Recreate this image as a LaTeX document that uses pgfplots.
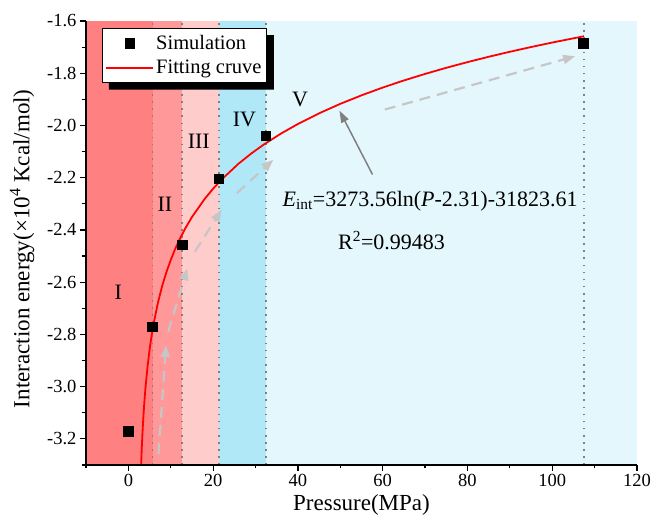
\documentclass[border=0pt]{standalone}
\usepackage{fontspec}
\setmainfont{Liberation Serif}
\usepackage{pgfplots}
\pgfplotsset{compat=1.18}
\usetikzlibrary{arrows.meta}

\definecolor{regI}{RGB}{255,128,128}
\definecolor{regII}{RGB}{255,152,152}
\definecolor{regIII}{RGB}{255,204,204}
\definecolor{regIV}{RGB}{176,232,248}
\definecolor{regV}{RGB}{228,247,253}
\definecolor{dashgray}{RGB}{198,198,198}
\definecolor{solidgray}{RGB}{128,128,128}

\begin{document}
\begin{tikzpicture}
\begin{axis}[
  at={(0,0)}, anchor=south west,
  width=551pt, height=444pt, scale only axis,
  xmin=-10, xmax=120, ymin=-3.3, ymax=-1.6,
  axis x line*=bottom, axis y line*=left,
  axis line style={line width=1.2pt, -},
  xtick={0,20,40,60,80,100,120},
  minor xtick={-10,10,30,50,70,90,110},
  ytick={-3.2,-3.0,-2.8,-2.6,-2.4,-2.2,-2.0,-1.8,-1.6},
  minor ytick={-3.3,-3.1,-2.9,-2.7,-2.5,-2.3,-2.1,-1.9,-1.7},
  tick align=outside, major tick length=6pt, minor tick length=3.5pt,
  tick style={line width=1.2pt, black},
  /pgf/number format/assume math mode=true,
  tick label style={font=\fontsize{18.5}{18.5}\selectfont},
  y tick label style={/pgf/number format/.cd, fixed, fixed zerofill, precision=1},
  x tick label style={/pgf/number format/.cd, fixed},
  xlabel={Pressure(MPa)},
  ylabel={Interaction energy(×10\textsuperscript{4} Kcal/mol)},
  label style={font=\fontsize{23}{23}\selectfont},
  xlabel style={at={(axis description cs:0.5,0)}, anchor=center, yshift=-40pt},
  ylabel style={at={(axis description cs:-0.116,0.487)}, anchor=center},
  axis on top,
  legend style={name=leg, at={(0.029,0.984)}, anchor=north west, draw=black,
    line width=0.8pt, fill=white, font=\fontsize{20.5}{21}\selectfont,
    inner xsep=3pt, inner ysep=5pt, row sep=5pt},
  legend cell align=left,
  legend image code/.code={\draw[mark repeat=2, mark phase=2, #1]
    plot coordinates {(0pt,0pt) (23.5pt,0pt) (47pt,0pt)};},
]
% shaded regions
\addplot[fill=regI, draw=none, forget plot] coordinates {(-10,-3.3) (-10,-1.6) (5.7,-1.6) (5.7,-3.3)} -- cycle;
\addplot[fill=regII, draw=none, forget plot] coordinates {(5.7,-3.3) (5.7,-1.6) (12.7,-1.6) (12.7,-3.3)} -- cycle;
\addplot[fill=regIII, draw=none, forget plot] coordinates {(12.7,-3.3) (12.7,-1.6) (21.4,-1.6) (21.4,-3.3)} -- cycle;
\addplot[fill=regIV, draw=none, forget plot] coordinates {(21.4,-3.3) (21.4,-1.6) (32.5,-1.6) (32.5,-3.3)} -- cycle;
\addplot[fill=regV, draw=none, forget plot] coordinates {(32.5,-3.3) (32.5,-1.6) (120,-1.6) (120,-3.3)} -- cycle;
% dotted boundaries
\addplot[solidgray, line width=1.6pt, dash pattern=on 1.6pt off 5.5pt, forget plot] coordinates {(5.7,-3.3) (5.7,-1.6)};
\addplot[solidgray, line width=1.6pt, dash pattern=on 1.6pt off 5.5pt, forget plot] coordinates {(12.7,-3.3) (12.7,-1.6)};
\addplot[solidgray, line width=1.6pt, dash pattern=on 1.6pt off 5.5pt, forget plot] coordinates {(21.4,-3.3) (21.4,-1.6)};
\addplot[solidgray, line width=1.6pt, dash pattern=on 1.6pt off 5.5pt, forget plot] coordinates {(32.5,-3.3) (32.5,-1.6)};
\addplot[solidgray, line width=1.6pt, dash pattern=on 1.6pt off 5.5pt, forget plot] coordinates {(107.5,-3.3) (107.5,-1.6)};
% dashed guide arrows
\addplot[dashgray, line width=2.2pt, dash pattern=on 11pt off 7pt, -{Triangle[length=12pt,width=9pt]}, forget plot] coordinates {(7.1,-3.257) (8.9,-2.841)};
\addplot[dashgray, line width=2.2pt, dash pattern=on 11pt off 7pt, -{Triangle[length=12pt,width=9pt]}, forget plot] coordinates {(9.4,-2.79) (13.9,-2.547)};
\addplot[dashgray, line width=2.2pt, dash pattern=on 11pt off 7pt, -{Triangle[length=12pt,width=9pt]}, forget plot] coordinates {(15.7,-2.483) (22.0,-2.323)};
\addplot[dashgray, line width=2.2pt, dash pattern=on 11pt off 7pt, -{Triangle[length=12pt,width=9pt]}, forget plot] coordinates {(25.6,-2.259) (34.2,-2.131)};
\addplot[dashgray, line width=2.2pt, dash pattern=on 11pt off 7pt, -{Triangle[length=12pt,width=9pt]}, forget plot] coordinates {(60.5,-1.939) (105.4,-1.735)};
\addplot[solidgray, line width=1.5pt, -{Triangle[length=12pt,width=8pt]}, forget plot] coordinates {(57.6,-2.188) (49.8,-1.943)};
% simulation points
\addplot[only marks, mark=square*, mark size=4.8pt, black] coordinates {
  (0,-3.17) (5.6,-2.77) (12.7,-2.457) (21.3,-2.204) (32.4,-2.039) (107.3,-1.684)
};
\addlegendentry{Simulation}
% fitted curve
\addplot[red, line width=1.8pt, line join=round] coordinates {
  (3.01,-3.2991) (3.05,-3.2809) (3.1,-3.2595) (3.2,-3.2205) (3.3,-3.1857)
  (3.4,-3.1542) (3.6,-3.0990) (3.8,-3.0518) (4,-3.0106) (4.5,-2.9257)
  (5,-2.8584) (5.5,-2.8026) (6,-2.7550) (7,-2.6765) (8,-2.6132) (9,-2.5602)
  (10,-2.5146) (11,-2.4746) (12,-2.4389) (13.5,-2.3918) (15,-2.3506)
  (18,-2.2812) (20,-2.2419) (22,-2.2068) (26,-2.1462) (29,-2.1072)
  (32,-2.0724) (36,-2.0310) (40,-1.9943) (45,-1.9535) (50,-1.9172)
  (55,-1.8846) (60,-1.8549) (65,-1.8277) (70,-1.8026) (75,-1.7792)
  (80,-1.7575) (85,-1.7370) (90,-1.7178) (95,-1.6997) (100,-1.6825)
  (107.5,-1.6583)
};
\addlegendentry{Fitting cruve}
% labels
\node[font=\fontsize{22}{22}\selectfont] at (axis cs:-2.4,-2.64) {I};
\node[font=\fontsize{22}{22}\selectfont] at (axis cs:8.6,-2.30) {II};
\node[font=\fontsize{22}{22}\selectfont] at (axis cs:16.6,-2.06) {III};
\node[font=\fontsize{22}{22}\selectfont] at (axis cs:27.4,-1.977) {IV};
\node[font=\fontsize{22}{22}\selectfont] at (axis cs:40.5,-1.90) {V};
\node[font=\fontsize{22}{22}\selectfont] at (axis cs:71.2,-2.29) {\textit{E}\textsubscript{int}=3273.56ln(\textit{P}-2.31)-31823.61};
\node[font=\fontsize{22}{22}\selectfont] at (axis cs:62.1,-2.44) {R\textsuperscript{2}=0.99483};
\end{axis}
% legend shadow (L-shaped strip outside the legend box)
\fill[black] ([yshift=-7pt]leg.north east) -- ([xshift=7pt,yshift=-7pt]leg.north east)
  -- ([xshift=7pt,yshift=-7pt]leg.south east) -- ([xshift=7pt,yshift=-7pt]leg.south west)
  -- ([xshift=7pt]leg.south west) -- (leg.south east) -- cycle;
\pgfresetboundingbox
\path[use as bounding box] (-86pt,-60pt) rectangle (565pt,465pt);
\end{tikzpicture}
\end{document}
